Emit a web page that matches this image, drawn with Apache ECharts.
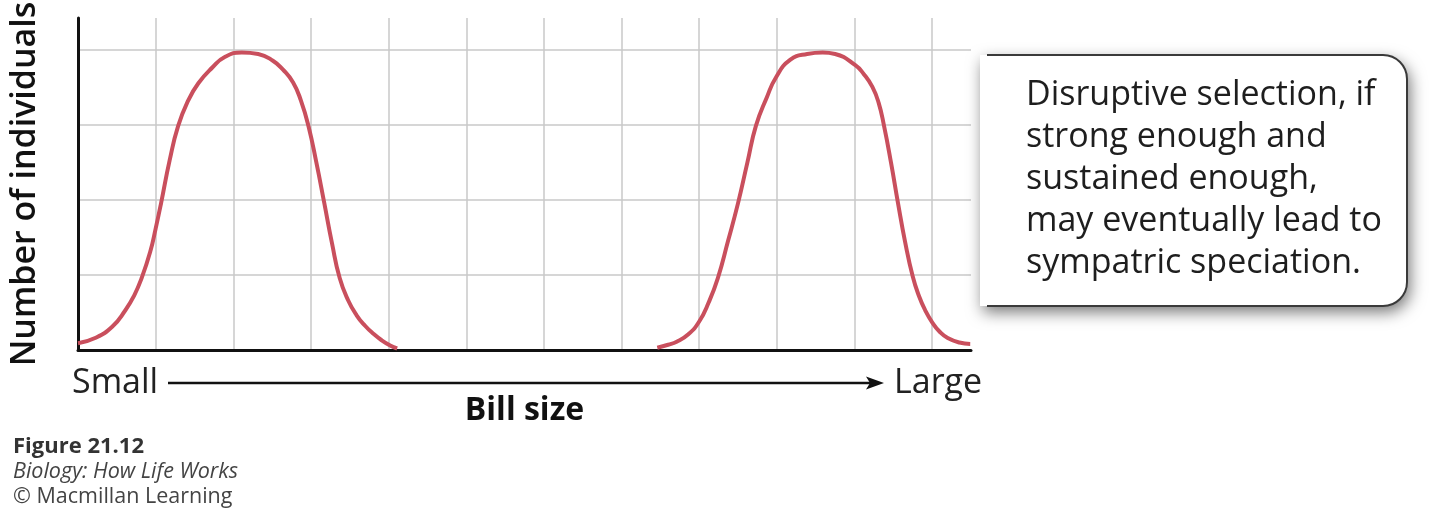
<!DOCTYPE html>
<html>
<head>
<meta charset="utf-8">
<script src="https://cdn.jsdelivr.net/npm/echarts@6/dist/echarts.min.js"></script>
<style>
html,body{margin:0;padding:0;background:#fff;}
#chart{width:1440px;height:515px;}
</style>
</head>
<body>
<div id="chart"></div>
<script>
// ---- data ----
const xMin = 0, xMax = 11.5, xInterval = 1;
const yMin = 0, yMax = 4.43, yInterval = 1;

const smallBillX = [0.00, 0.22, 0.44, 0.61, 0.72, 0.82, 0.93, 1.00, 1.07, 1.18, 1.29, 1.42, 1.55, 1.73, 1.89, 2.11, 2.32, 2.51, 2.64, 2.77, 2.87, 2.97, 3.07, 3.17, 3.27, 3.37, 3.48, 3.59, 3.70, 3.80, 3.91, 4.02, 4.11];
const smallBillY = [0.09, 0.16, 0.31, 0.53, 0.72, 0.96, 1.31, 1.62, 1.96, 2.53, 2.99, 3.33, 3.56, 3.77, 3.91, 3.97, 3.95, 3.86, 3.74, 3.57, 3.33, 2.98, 2.50, 1.97, 1.43, 0.96, 0.66, 0.46, 0.32, 0.22, 0.13, 0.06, 0.02];

const largeBillX = [7.46, 7.60, 7.71, 7.86, 8.00, 8.12, 8.24, 8.37, 8.50, 8.62, 8.73, 8.87, 8.99, 9.17, 9.39, 9.59, 9.75, 10.01, 10.12, 10.23, 10.31, 10.38, 10.47, 10.56, 10.65, 10.75, 10.83, 10.91, 11.00, 11.10, 11.20, 11.35, 11.49];
const largeBillY = [0.03, 0.07, 0.11, 0.21, 0.38, 0.63, 0.96, 1.45, 1.96, 2.50, 2.99, 3.37, 3.64, 3.87, 3.95, 3.97, 3.95, 3.80, 3.68, 3.51, 3.30, 2.99, 2.50, 1.96, 1.45, 0.98, 0.72, 0.53, 0.37, 0.24, 0.16, 0.10, 0.08];

const yTitle = 'Number of individuals';
const xTitle = 'Bill size';
const xLowLabel = 'Small';
const xHighLabel = 'Large';
const calloutLines = [
  'Disruptive selection, if',
  'strong enough and',
  'sustained enough,',
  'may eventually lead to',
  'sympatric speciation.'
];
const creditLines = ['Figure 21.12', 'Biology: How Life Works', '\u00A9 Macmillan Learning'];

// ---- chart ----
const pairs = (xs, ys) => xs.map((x, i) => [x, ys[i]]);
const FONT = '"Open Sans", "Noto Sans", sans-serif';
const curveColor = '#c94f5d';
const boxStroke = {stroke: '#3a3a3a', lineWidth: 2, fill: null};

const chart = echarts.init(document.getElementById('chart'), null, {renderer: 'canvas'});

const option = {
  animation: false,
  backgroundColor: '#ffffff',
  grid: {left: 78, right: 469, top: 18, bottom: 165, containLabel: false, outerBoundsMode: 'none'},
  xAxis: {
    type: 'value', min: xMin, max: xMax, interval: xInterval,
    name: xTitle, nameLocation: 'middle', nameGap: 45,
    nameTextStyle: {fontFamily: FONT, fontSize: 32, fontWeight: 700, color: '#111'},
    axisLine: {show: true, onZero: false, lineStyle: {color: '#111', width: 3}},
    axisTick: {show: false}, axisLabel: {show: false},
    splitLine: {show: true, showMinLine: false, showMaxLine: false, lineStyle: {color: '#c8c8c8', width: 1.5}}
  },
  yAxis: {
    type: 'value', min: yMin, max: yMax, interval: yInterval,
    name: yTitle, nameLocation: 'middle', nameGap: 36, nameRotate: 90,
    nameTextStyle: {fontFamily: FONT, fontSize: 34, fontWeight: 600, color: '#111'},
    axisLine: {show: true, onZero: false, lineStyle: {color: '#111', width: 3}},
    axisTick: {show: false}, axisLabel: {show: false},
    splitLine: {show: true, showMinLine: false, showMaxLine: false, lineStyle: {color: '#c8c8c8', width: 1.5}}
  },
  series: [
    {type: 'line', name: 'Small bills', data: pairs(smallBillX, smallBillY), smooth: 0.5, symbol: 'none',
     lineStyle: {color: curveColor, width: 4}, z: 3},
    {type: 'line', name: 'Large bills', data: pairs(largeBillX, largeBillY), smooth: 0.5, symbol: 'none',
     lineStyle: {color: curveColor, width: 4}, z: 3}
  ],
  graphic: [
    // Small / Large and arrow
    {type: 'text', x: 72, y: 366, style: {text: xLowLabel, font: '400 34px ' + FONT, fill: '#222'}},
    {type: 'text', x: 894, y: 366, style: {text: xHighLabel, font: '400 34px ' + FONT, fill: '#222'}},
    {type: 'line', shape: {x1: 168, y1: 383, x2: 872, y2: 383}, style: {stroke: '#111', lineWidth: 2.5}},
    {type: 'polygon', shape: {points: [[866, 376.5], [884, 383], [866, 389.5], [870, 383]]}, style: {fill: '#111'}},
    // callout box
    {type: 'rect', shape: {x: 980, y: 55, width: 427, height: 251, r: [0, 24, 24, 0]},
     style: {fill: '#fff', shadowBlur: 16, shadowColor: 'rgba(0,0,0,0.55)', shadowOffsetX: 3, shadowOffsetY: 6}, z: 10},
    {type: 'line', shape: {x1: 987, y1: 55, x2: 1383, y2: 55}, style: boxStroke, z: 11},
    {type: 'arc', shape: {cx: 1383, cy: 79, r: 24, startAngle: -Math.PI / 2, endAngle: 0, clockwise: true}, style: boxStroke, z: 11},
    {type: 'line', shape: {x1: 1407, y1: 79, x2: 1407, y2: 282}, style: boxStroke, z: 11},
    {type: 'arc', shape: {cx: 1383, cy: 282, r: 24, startAngle: 0, endAngle: Math.PI / 2, clockwise: true}, style: boxStroke, z: 11},
    {type: 'line', shape: {x1: 1383, y1: 306, x2: 987, y2: 306}, style: boxStroke, z: 11},
    {type: 'text', x: 1026, y: 74, z: 12,
     style: {text: calloutLines.join('\n'), font: '400 34px ' + FONT, lineHeight: 42, fill: '#1e1e1e'}},
    // credits
    {type: 'text', x: 13, y: 436, style: {text: creditLines[0], font: '700 22px ' + FONT, fill: '#333'}},
    {type: 'text', x: 13, y: 461, style: {text: creditLines[1], font: 'italic 400 21.5px ' + FONT, fill: '#444'}},
    {type: 'text', x: 13, y: 486, style: {text: creditLines[2], font: '400 21.5px ' + FONT, fill: '#444'}}
  ]
};
chart.setOption(option);
</script>
</body>
</html>
